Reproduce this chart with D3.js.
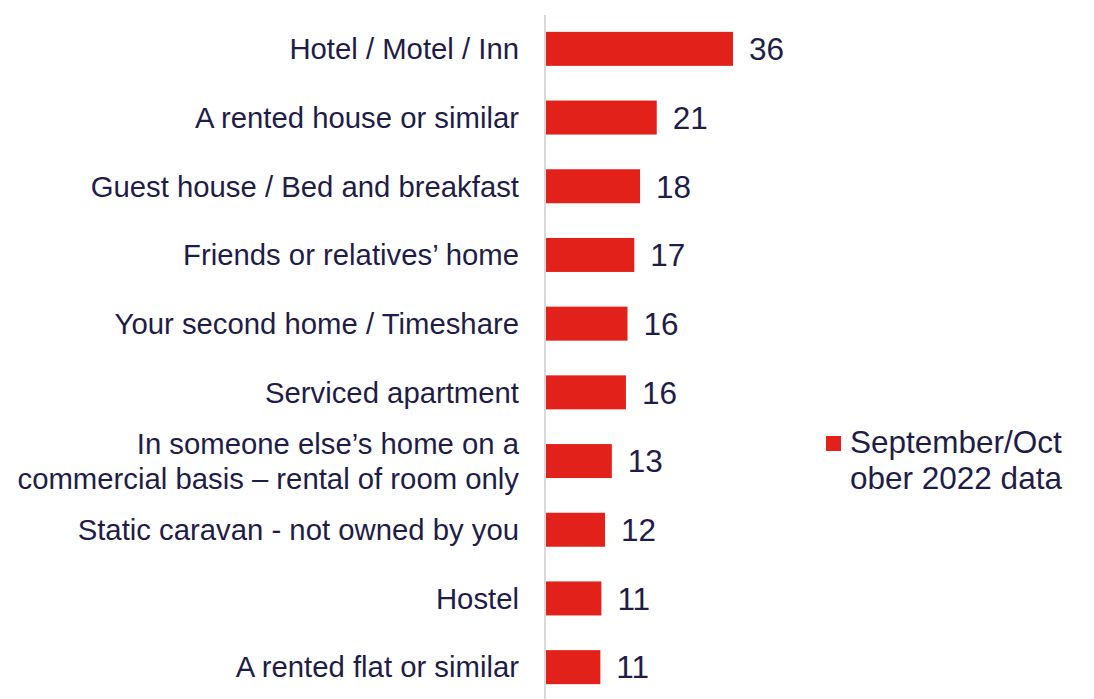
<!DOCTYPE html>
<html lang="en">
<head>
<meta charset="UTF-8">
<title>Accommodation type</title>
<script src="https://d3js.org/d3.v7.min.js"></script>
<style>
  body { margin: 0; background: #fff; }
  svg text { font-family: Arial, "Liberation Sans", sans-serif; fill: #1f1d47; }
</style>
</head>
<body>
<div id="chart"></div>
<script>
var categories = [
  ["Hotel / Motel / Inn"],
  ["A rented house or similar"],
  ["Guest house / Bed and breakfast"],
  ["Friends or relatives\u2019 home"],
  ["Your second home / Timeshare"],
  ["Serviced apartment"],
  ["In someone else\u2019s home on a", "commercial basis \u2013 rental of room only"],
  ["Static caravan - not owned by you"],
  ["Hostel"],
  ["A rented flat or similar"]
];
// bar lengths; labels show the rounded value
var values = [36, 21.4, 18.2, 17.1, 15.8, 15.5, 12.8, 11.5, 10.8, 10.6];
var seriesName = ["September/Oct", "ober 2022 data"];

var W = 1094, H = 699;

var svg = d3.select("#chart").append("svg")
    .attr("width", W).attr("height", H);

var x = d3.scaleLinear().domain([0, 36]).range([545, 733]);
var y = d3.scaleBand()
    .domain(d3.range(values.length))
    .range([14.5, 701.5])
    .paddingInner(0.505)
    .paddingOuter(0.2525);

// bars
svg.append("g").selectAll("rect")
    .data(values).enter().append("rect")
    .attr("x", x(0))
    .attr("y", (d, i) => y(i))
    .attr("width", d => x(d) - x(0))
    .attr("height", y.bandwidth())
    .attr("fill", "#e3211b");

// axis line
svg.append("line")
    .attr("x1", x(0)).attr("x2", x(0))
    .attr("y1", 15).attr("y2", H)
    .attr("stroke", "#d9d9d9").attr("stroke-width", 2);

// category labels
var lab = svg.append("g").selectAll("text")
    .data(categories).enter().append("text")
    .attr("text-anchor", "end")
    .style("font-size", "29.3px")
    .attr("transform", (d, i) => "translate(519," + (y(i) + y.bandwidth() / 2) + ")");
lab.selectAll("tspan")
    .data(d => d.map((t, k) => ({t: t, k: k, n: d.length})))
    .enter().append("tspan")
    .attr("x", 0)
    .attr("y", d => (d.k - (d.n - 1) / 2) * 35)
    .attr("dy", "0.35em")
    .text(d => d.t);

// value labels
svg.append("g").selectAll("text")
    .data(values).enter().append("text")
    .attr("x", d => x(d) + 16)
    .attr("y", (d, i) => y(i) + y.bandwidth() / 2)
    .attr("dy", "0.36em")
    .style("font-size", "31.5px")
    .text(d => Math.round(d));

// legend
var legend = svg.append("g").attr("transform", "translate(826,436)");
legend.append("rect").attr("width", 15).attr("height", 15).attr("fill", "#e3211b");
legend.append("text")
    .style("font-size", "31.5px")
    .selectAll("tspan").data(seriesName).enter().append("tspan")
    .attr("x", 24)
    .attr("y", (d, i) => 17 + i * 36)
    .text(d => d);
</script>
</body>
</html>
